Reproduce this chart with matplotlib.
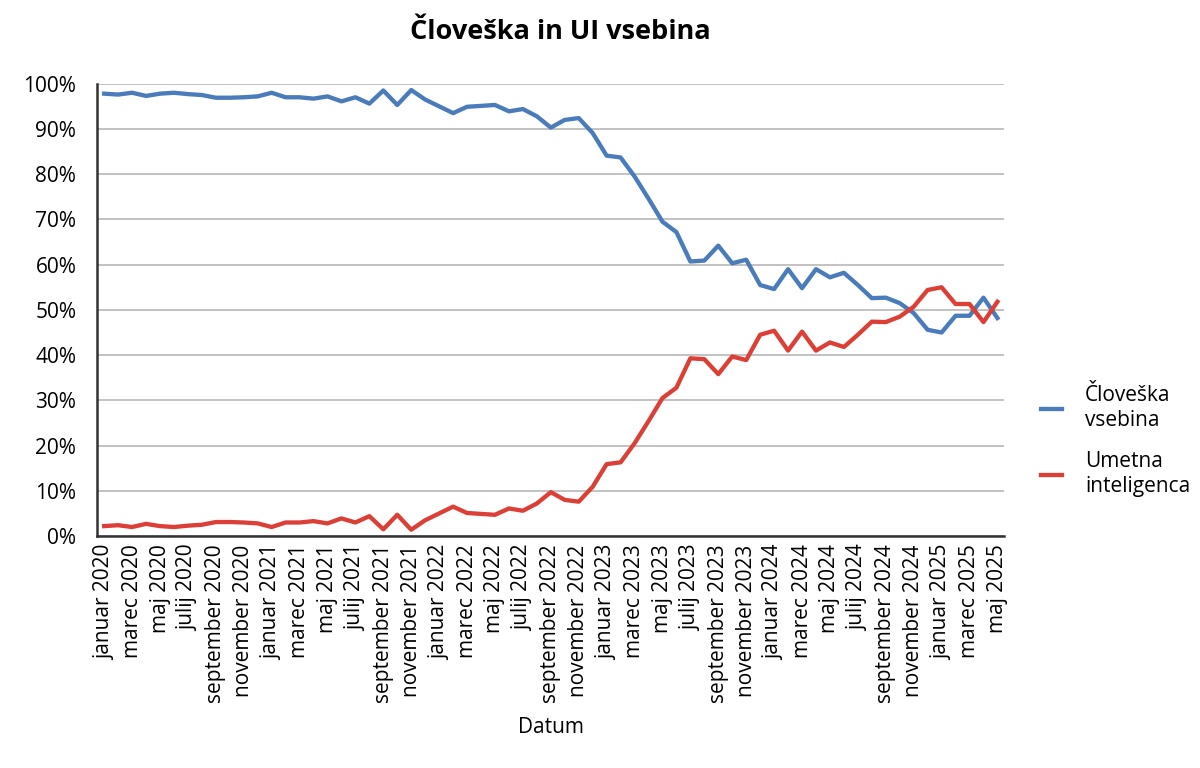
import numpy as np
import matplotlib.pyplot as plt
from matplotlib.ticker import PercentFormatter

plt.rcParams['font.family'] = ['Open Sans', 'DejaVu Sans']

months = ['januar', 'februar', 'marec', 'april', 'maj', 'junij',
          'julij', 'avgust', 'september', 'oktober', 'november', 'december']
years = [2020, 2021, 2022, 2023, 2024, 2025]

# january 2020 .. maj 2025, monthly share in %
human = [97.8, 97.6, 98.0, 97.3, 97.8, 98.0, 97.7, 97.5, 96.9, 96.9, 97.0, 97.2,
         98.0, 97.0, 97.0, 96.7, 97.2, 96.1, 97.0, 95.6, 98.5, 95.3, 98.6, 96.5,
         95.0, 93.5, 94.9, 95.1, 95.3, 93.9, 94.4, 92.8, 90.3, 92.0, 92.4, 89.1,
         84.1, 83.7, 79.5, 74.6, 69.5, 67.2, 60.7, 60.9, 64.2, 60.3, 61.1, 55.5,
         54.6, 59.0, 54.8, 59.0, 57.2, 58.2, 55.5, 52.6, 52.7, 51.5, 49.3, 45.6,
         45.0, 48.7, 48.7, 52.7, 48.2]
ai = [2.2, 2.4, 2.0, 2.7, 2.2, 2.0, 2.3, 2.5, 3.1, 3.1, 3.0, 2.8,
      2.0, 3.0, 3.0, 3.3, 2.8, 3.9, 3.0, 4.4, 1.5, 4.7, 1.4, 3.5,
      5.0, 6.5, 5.1, 4.9, 4.7, 6.1, 5.6, 7.2, 9.7, 8.0, 7.6, 10.9,
      15.9, 16.3, 20.5, 25.4, 30.5, 32.8, 39.3, 39.1, 35.8, 39.7, 38.9, 44.5,
      45.4, 41.0, 45.2, 41.0, 42.8, 41.8, 44.5, 47.4, 47.3, 48.5, 50.7, 54.4,
      55.0, 51.3, 51.3, 47.3, 51.8]

labels = [f'{months[i % 12]} {years[i // 12]}' for i in range(len(human))]
x = np.arange(len(human))

fig = plt.figure(figsize=(12, 7.68), dpi=100)
ax = fig.add_axes([0.081, 0.302, 0.756, 0.589])

ax.plot(x, human, color='#4a7bba', lw=3.1, label='Človeška\nvsebina')
ax.plot(x, ai, color='#dc3f36', lw=3.1, label='Umetna\ninteligenca')

ax.set_xlim(-0.5, len(x) - 0.5)
ax.set_ylim(0, 100)
ax.set_yticks(np.arange(0, 101, 10))
ax.yaxis.set_major_formatter(PercentFormatter(decimals=0))
ax.set_xticks(x[::2])
ax.set_xticklabels(labels[::2], rotation=90, fontsize=15)
ax.tick_params(axis='y', labelsize=15, length=0, pad=15)
ax.tick_params(axis='x', length=0, pad=6)
ax.grid(axis='y', color='#bdbdbd', lw=1.3)
ax.set_axisbelow(True)
for s in ['top', 'right']:
    ax.spines[s].set_visible(False)
for s in ['left', 'bottom']:
    ax.spines[s].set_color('#333333')
    ax.spines[s].set_linewidth(1.8)

ax.set_xlabel('Datum', fontsize=15, labelpad=10)
fig.suptitle('Človeška in UI vsebina', fontsize=19.5, fontweight='bold', x=0.467, y=0.975)

ax.legend(loc='center left', bbox_to_anchor=(1.02, 0.21), frameon=False,
          fontsize=15, handlelength=1.0, labelspacing=1.0, handletextpad=1.1)

fig.savefig('out.png', dpi=100)
